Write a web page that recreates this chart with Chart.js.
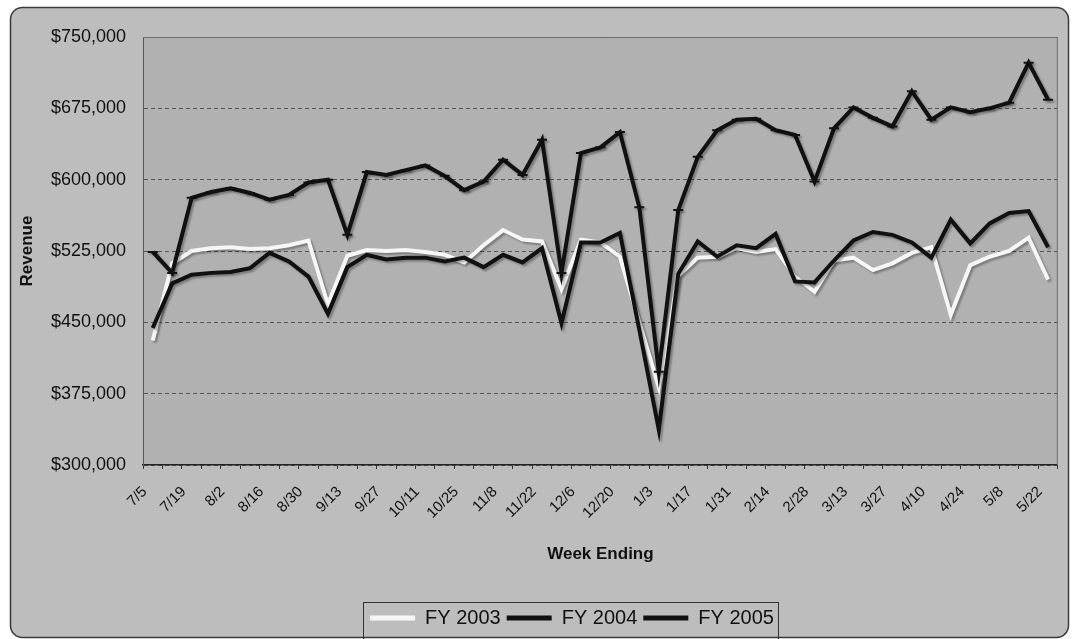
<!DOCTYPE html>
<html>
<head>
<meta charset="utf-8">
<title>Weekly Revenue</title>
<script src="https://cdn.jsdelivr.net/npm/chart.js@4.4.1/dist/chart.umd.min.js"></script>
<style>
  html, body { margin: 0; padding: 0; background: #fff; }
  #wrap { width: 1075px; height: 639px; }
</style>
</head>
<body>
<div id="wrap"><canvas id="revenue"></canvas></div>
<script>
// week ending dates, Jul 2003 - May 2004
const weeks = ['7/5','7/12','7/19','7/26','8/2','8/9','8/16','8/23','8/30','9/6',
  '9/13','9/20','9/27','10/4','10/11','10/18','10/25','11/1','11/8','11/15',
  '11/22','11/29','12/6','12/13','12/20','12/27','1/3','1/10','1/17','1/24',
  '1/31','2/7','2/14','2/21','2/28','3/6','3/13','3/20','3/27','4/3',
  '4/10','4/17','4/24','5/1','5/8','5/15','5/22'];

// only every other week gets a label on the axis
const shownWeeks = ['7/5','7/19','8/2','8/16','8/30','9/13','9/27','10/11','10/25','11/8',
  '11/22','12/6','12/20','1/3','1/17','1/31','2/14','2/28','3/13','3/27','4/10','4/24','5/8','5/22'];

const fy2003 = [431000, 512000, 525000, 528000, 529000, 527000, 528000, 531000, 536000, 469000,
  520000, 526000, 525000, 526000, 524000, 521000, 513000, 531000, 547000, 537000,
  535000, 485000, 537000, 534000, 519000, 450000, 382000, 499000, 518000, 519000,
  528000, 524000, 527000, 498000, 482000, 515000, 518000, 505000, 512000, 523000,
  529000, 458000, 510000, 519000, 525000, 539000, 495000];

const fy2004 = [444000, 491000, 500000, 502000, 503000, 507000, 523000, 514000, 498000, 459000,
  508000, 521000, 516000, 518000, 518000, 514000, 518000, 508000, 521000, 513000,
  528000, 449000, 534000, 534000, 544000, 442000, 337000, 501000, 535000, 519000,
  531000, 528000, 543000, 493000, 492000, 515000, 536000, 545000, 542000, 534000,
  518000, 558000, 533000, 554000, 565000, 567000, 529000];

const fy2005 = [524000, 502000, 581000, 587000, 591000, 586000, 579000, 584000, 597000, 600000,
  542000, 608000, 605000, 610000, 615000, 604000, 589000, 598000, 621000, 605000,
  642000, 502000, 628000, 634000, 650000, 571000, 398000, 568000, 624000, 652000,
  663000, 664000, 652000, 647000, 598000, 654000, 676000, 665000, 656000, 693000,
  663000, 676000, 671000, 675000, 681000, 723000, 684000];

const yMin = 300000;
const yMax = 750000;
const yStep = 75000;

const FONT = '"Liberation Sans", Arial, sans-serif';

const frame = {
  id: 'frame',
  afterUpdate(chart) {
    // legend sits a bit right of centre in the original
    const lg = chart.legend;
    lg.left += 43;
    lg.right += 43;
    lg.adjustHitBoxes();
  },
  beforeDraw(chart) {
    const { ctx, chartArea: a } = chart;
    ctx.save();
    ctx.fillStyle = '#fff';
    ctx.fillRect(0, 0, chart.width, chart.height);
    ctx.beginPath();
    ctx.roundRect(10.5, 7.5, 1058, 630, 12);
    ctx.fillStyle = '#bdbdbd';
    ctx.fill();
    ctx.lineWidth = 1.5;
    ctx.strokeStyle = '#3a3a3a';
    ctx.stroke();
    ctx.fillStyle = '#b1b1b1';
    ctx.fillRect(a.left, a.top, a.right - a.left, a.bottom - a.top);
    ctx.restore();
  },
  // soft drop shadow under the lines, like the excel original
  beforeDatasetsDraw(chart) {
    const ctx = chart.ctx;
    ctx.save();
    ctx.shadowColor = 'rgba(0,0,0,0.3)';
    ctx.shadowOffsetX = 2;
    ctx.shadowOffsetY = 2;
    ctx.shadowBlur = 2;
  },
  afterDatasetsDraw(chart) {
    chart.ctx.restore();
  },
  afterDraw(chart) {
    const { ctx, chartArea: a, legend } = chart;
    ctx.save();
    ctx.strokeStyle = '#6e6e6e';
    ctx.lineWidth = 1;
    ctx.beginPath();
    ctx.moveTo(a.left, a.top + 0.5);
    ctx.lineTo(a.right - 0.5, a.top + 0.5);
    ctx.lineTo(a.right - 0.5, a.bottom);
    ctx.stroke();
    // box around legend
    const boxes = legend.legendHitBoxes;
    const l = Math.min(...boxes.map(b => b.left)) - 7;
    const r = Math.max(...boxes.map(b => b.left + b.width)) + 4;
    ctx.strokeStyle = '#333';
    ctx.strokeRect(Math.round(l) + 0.5, legend.top + 0.5, Math.round(r - l), 60);
    ctx.restore();
  }
};

new Chart(document.getElementById('revenue'), {
  type: 'line',
  data: {
    labels: weeks,
    datasets: [
      { label: 'FY 2003', data: fy2003, borderColor: '#f6f6f6', backgroundColor: '#f6f6f6',
        borderWidth: 4, pointRadius: 0, tension: 0, order: 3 },
      { label: 'FY 2004', data: fy2004, borderColor: '#111', backgroundColor: '#111',
        borderWidth: 4, pointRadius: 0, tension: 0, order: 2 },
      { label: 'FY 2005', data: fy2005, borderColor: '#111', backgroundColor: '#111',
        borderWidth: 4, tension: 0, order: 1,
        pointStyle: 'line', pointRadius: 5, pointBorderWidth: 2, pointBorderColor: '#111' }
    ]
  },
  options: {
    responsive: true,
    maintainAspectRatio: false,
    animation: false,
    devicePixelRatio: 1,
    layout: { padding: { left: 0, right: 17, top: 37, bottom: 1 } },
    plugins: {
      tooltip: { enabled: false },
      legend: {
        position: 'bottom',
        labels: {
          font: { family: FONT, size: 20 },
          color: '#111',
          boxWidth: 45,
          boxHeight: 5,
          padding: 6,
          sort: (a, b) => a.datasetIndex - b.datasetIndex,
          generateLabels: chart => Chart.defaults.plugins.legend.labels.generateLabels(chart)
            .map(item => ({ ...item, lineWidth: 0 }))
        }
      }
    },
    scales: {
      x: {
        offset: true,
        afterFit: s => { s.height = 137; },
        grid: { offset: true, drawOnChartArea: false, drawTicks: true, tickLength: 4, color: '#333' },
        border: { color: '#222', width: 1.5 },
        ticks: {
          autoSkip: false,
          maxRotation: 45,
          minRotation: 45,
          padding: 14,
          labelOffset: -8,
          color: '#111',
          font: { family: FONT, size: 15 },
          callback: function (value) {
            const lab = this.getLabelForValue(value);
            return shownWeeks.includes(lab) ? lab : '';
          }
        },
        title: {
          display: true,
          text: 'Week Ending',
          color: '#111',
          font: { family: FONT, size: 17, weight: 'bold' },
          padding: { top: 0, bottom: 37 }
        }
      },
      y: {
        min: yMin,
        max: yMax,
        afterFit: s => { s.width = 143; },
        grid: { color: '#555', drawTicks: false, lineWidth: 1 },
        border: { display: true, color: '#555', dash: [4, 3] },
        ticks: {
          stepSize: yStep,
          padding: 17,
          color: '#111',
          font: { family: FONT, size: 18 },
          callback: v => '$' + v.toLocaleString('en-US')
        },
        title: {
          display: true,
          text: 'Revenue',
          color: '#111',
          font: { family: FONT, size: 17, weight: 'bold' },
          padding: { top: 17, bottom: 0 }
        }
      }
    }
  },
  plugins: [frame]
});
</script>
</body>
</html>
